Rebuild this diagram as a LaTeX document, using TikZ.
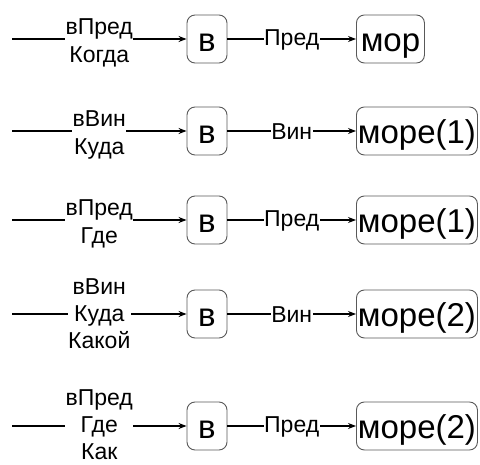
\documentclass[tikz,border=0pt]{standalone}
\usepackage{fontspec}
\setmainfont{Liberation Sans}
\usetikzlibrary{arrows.meta}
\begin{document}
\begin{tikzpicture}[x=1pt,y=-1pt,
  wordbox/.style={draw=black!65, line width=0.9pt, rounded corners=8pt,
    minimum height=48pt, inner sep=0pt, text height=25pt, text depth=0pt,
    font=\fontsize{33}{40}\selectfont},
  prepbox/.style={wordbox, minimum width=40pt},
  nounbox/.style={wordbox, anchor=west, minimum width=121pt},
  link/.style={line width=1.2pt, -{Stealth[length=8pt,width=6pt]}},
  rel/.style={fill=white, inner xsep=0.5pt, inner ysep=0pt,
    font=\fontsize{23}{28}\selectfont, align=center},
  pairlabel/.style={rel, yshift=-4pt},
  triplelabel/.style={rel, font=\fontsize{23}{27}\selectfont}]
\useasboundingbox (0,0) rectangle (480,465);

% row 1
\coordinate (s1) at (12,39);
\node[prepbox] (p1) at (207,39) {в};
\node[nounbox, minimum width=68pt] (n1) at (356,39) {мор};
\draw[link] (s1) -- node[pairlabel] {вПред\\Когда} (p1);
\draw[link] (p1) -- node[rel, yshift=-1pt] {Пред} (n1);

% row 2
\coordinate (s2) at (12,131);
\node[prepbox] (p2) at (207,131) {в};
\node[nounbox] (n2) at (356,131) {море(1)};
\draw[link] (s2) -- node[pairlabel] {вВин\\Куда} (p2);
\draw[link] (p2) -- node[rel, yshift=-1pt] {Вин} (n2);

% row 3
\coordinate (s3) at (12,220);
\node[prepbox] (p3) at (207,220) {в};
\node[nounbox] (n3) at (356,220) {море(1)};
\draw[link] (s3) -- node[pairlabel] {вПред\\Где} (p3);
\draw[link] (p3) -- node[rel, yshift=-1pt] {Пред} (n3);

% row 4
\coordinate (s4) at (12,314);
\node[prepbox] (p4) at (207,314) {в};
\node[nounbox] (n4) at (356,314) {море(2)};
\draw[link] (s4) -- node[triplelabel] {вВин\\Куда\\Какой} (p4);
\draw[link] (p4) -- node[rel, yshift=-1pt] {Вин} (n4);

% row 5
\coordinate (s5) at (12,426);
\node[prepbox] (p5) at (207,426) {в};
\node[nounbox] (n5) at (356,426) {море(2)};
\draw[link] (s5) -- node[triplelabel, yshift=1pt] {вПред\\Где\\Как} (p5);
\draw[link] (p5) -- node[rel, yshift=-1pt] {Пред} (n5);
\end{tikzpicture}
\end{document}
